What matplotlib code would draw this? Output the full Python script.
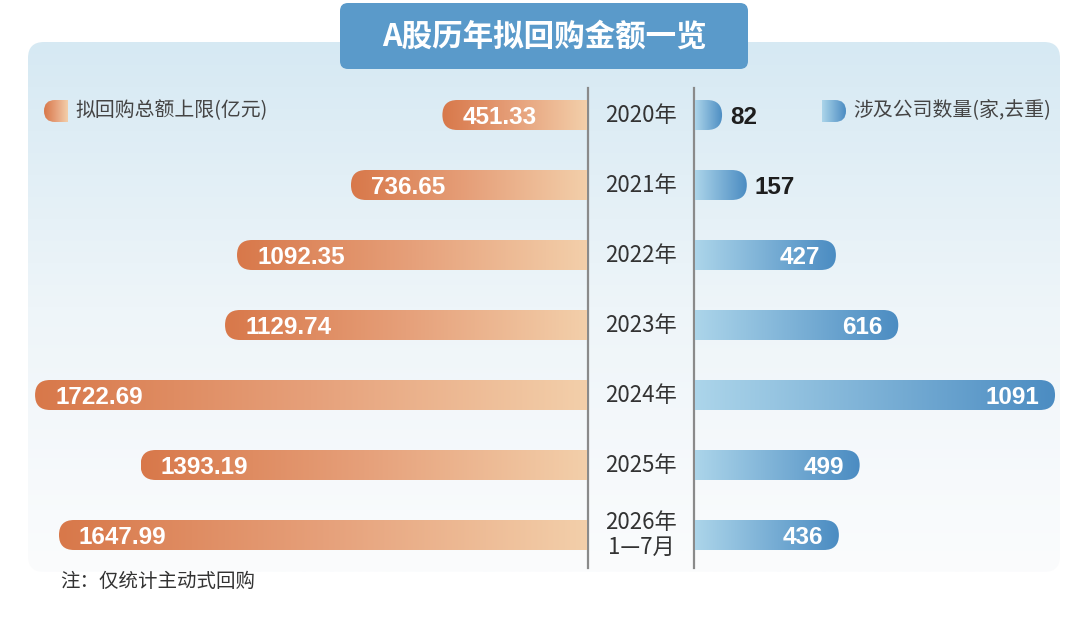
import matplotlib
matplotlib.use("Agg")
import matplotlib.pyplot as plt
import numpy as np
from matplotlib import transforms
from matplotlib.colors import LinearSegmentedColormap
from matplotlib.patches import FancyBboxPatch

plt.rcParams["font.family"] = ["Noto Sans CJK SC", "DejaVu Sans"]

# ─── Data ────────────────────────────────────────────────────────────────────
years = ["2020年", "2021年", "2022年", "2023年", "2024年", "2025年", "2026年\n1—7月"]
amounts = [451.33, 736.65, 1092.35, 1129.74, 1722.69, 1393.19, 1647.99]   # 亿元
companies = [82, 157, 427, 616, 1091, 499, 436]                          # 家

TITLE = "A股历年拟回购金额一览"
LEGEND_LEFT = "拟回购总额上限(亿元)"
LEGEND_RIGHT = "涉及公司数量(家,去重)"
NOTE = "注：仅统计主动式回购"

# ─── Layout (pixels) ─────────────────────────────────────────────────────────
W, H = 1080, 632
PX_PER_AMOUNT = 0.3204    # left side pixel scale
PX_PER_COMPANY = 0.330    # right side pixel scale
ROW_PX = 70
BAR_PX = 30
LEFT_X0, LEFT_X1 = 20, 587
RIGHT_X0, RIGHT_X1 = 695, 1075
ROWS_Y0, ROWS_Y1 = 80, 570
CENTER_X = 641

ORANGE = LinearSegmentedColormap.from_list("orange", ["#d8784a", "#e6a07a", "#f3cfaa"])
BLUE = LinearSegmentedColormap.from_list("blue", ["#acd5ea", "#4b8cc2"])
PANEL = LinearSegmentedColormap.from_list("panel", ["#d6e9f3", "#eef5f9", "#fbfcfd"])
NUM_FONT = "Liberation Sans"


def px_axes(fig, x0, x1, y0, y1):
    ax = fig.add_axes([x0 / W, 1 - y1 / H, (x1 - x0) / W, (y1 - y0) / H])
    ax.set_axis_off()
    return ax


def rounded_gradient(ax, x_start, x_end, yc, h, cmap, round_end, aspect):
    """Horizontal gradient bar (cmap 0 at x_start), rounded only at round_end."""
    grad = np.linspace(0, 1, 256).reshape(1, -1)
    im = ax.imshow(grad, cmap=cmap, extent=[x_start, x_end, yc + h / 2, yc - h / 2],
                   aspect="auto", interpolation="bicubic", zorder=2)
    r = (h / 2) / aspect
    lo, hi = min(x_start, x_end), max(x_start, x_end)
    if round_end == lo:
        bx0, bx1 = lo, hi + r
    else:
        bx0, bx1 = lo - r, hi
    clip = FancyBboxPatch((bx0, yc - h / 2), bx1 - bx0, h,
                          boxstyle=f"round,pad=0,rounding_size={r}",
                          mutation_aspect=aspect, transform=ax.transData)
    im.set_clip_path(clip)
    return im


fig = plt.figure(figsize=(W / 100, H / 100), dpi=100)
fig.patch.set_facecolor("white")

# ─── Background, panel, title ────────────────────────────────────────────────
bg = px_axes(fig, 0, W, 0, H)
panel_img = bg.imshow(np.linspace(0, 1, 256).reshape(-1, 1), cmap=PANEL,
                      extent=[28, 1060, 572, 42], aspect="auto", zorder=0)
panel_img.set_clip_path(FancyBboxPatch((28, 42), 1032, 530,
                                       boxstyle="round,pad=0,rounding_size=16",
                                       transform=bg.transData))
bg.add_patch(FancyBboxPatch((340, 3), 408, 66, boxstyle="round,pad=0,rounding_size=8",
                            fc="#5a9aca", ec="none", zorder=3))
bg.text(544, 37, TITLE, color="white", fontsize=22, fontweight="bold",
        ha="center", va="center", zorder=4)

for x in (588, 694):
    bg.plot([x, x], [88, 568], color="#8a8a8a", lw=1.6, zorder=3)

# legend markers + texts
rounded_gradient(bg, 44, 68, 111, 22, ORANGE, round_end=44, aspect=1)
rounded_gradient(bg, 822, 846, 111, 22, BLUE, round_end=846, aspect=1)
bg.text(75, 111, LEGEND_LEFT, fontsize=14.3, color="#444444", ha="left", va="center")
bg.text(853, 111, LEGEND_RIGHT, fontsize=14.3, color="#444444", ha="left", va="center")
bg.text(60, 581, NOTE, fontsize=14, color="#333333", ha="left", va="center")

bg.set_xlim(0, W)
bg.set_ylim(H, 0)

# ─── Bars ────────────────────────────────────────────────────────────────────
ax_l = px_axes(fig, LEFT_X0, LEFT_X1, ROWS_Y0, ROWS_Y1)
ax_r = px_axes(fig, RIGHT_X0, RIGHT_X1, ROWS_Y0, ROWS_Y1)
aspect_l = PX_PER_AMOUNT / ROW_PX
aspect_r = PX_PER_COMPANY / ROW_PX
bar_h = BAR_PX / ROW_PX
px_pt = 0.72
num_style = dict(fontsize=17.5, fontweight="bold", family=NUM_FONT, zorder=5,
                 textcoords="offset points", va="center_baseline")

for i, (amt, cnt) in enumerate(zip(amounts, companies)):
    rounded_gradient(ax_l, amt, 0, i, bar_h, ORANGE, round_end=amt, aspect=aspect_l)
    ax_l.annotate(f"{amt:.2f}", xy=(amt, i), xytext=(20 * px_pt, 0),
                  ha="left", color="white", **num_style)

    rounded_gradient(ax_r, 0, cnt, i, bar_h, BLUE, round_end=cnt, aspect=aspect_r)
    if cnt * PX_PER_COMPANY > 80:
        ax_r.annotate(f"{cnt}", xy=(cnt, i), xytext=(-16 * px_pt, 0),
                      ha="right", color="white", **num_style)
    else:
        ax_r.annotate(f"{cnt}", xy=(cnt, i), xytext=(8 * px_pt, 0),
                      ha="left", color="#1e1e1e", **num_style)

n_rows = len(years)
ax_l.set_xlim((LEFT_X1 - LEFT_X0) / PX_PER_AMOUNT, 0)
ax_r.set_xlim(0, (RIGHT_X1 - RIGHT_X0) / PX_PER_COMPANY)
for ax in (ax_l, ax_r):
    ax.set_ylim(n_rows - 0.5, -0.5)

# year labels: x in pixels, y in row units
year_tr = transforms.blended_transform_factory(bg.transData, ax_l.transData)
for i, year in enumerate(years):
    bg.text(CENTER_X, i, year, transform=year_tr, fontsize=16, color="#333333",
            ha="center", va="center", linespacing=1.15, zorder=5)

fig.savefig("out.png", dpi=100)
